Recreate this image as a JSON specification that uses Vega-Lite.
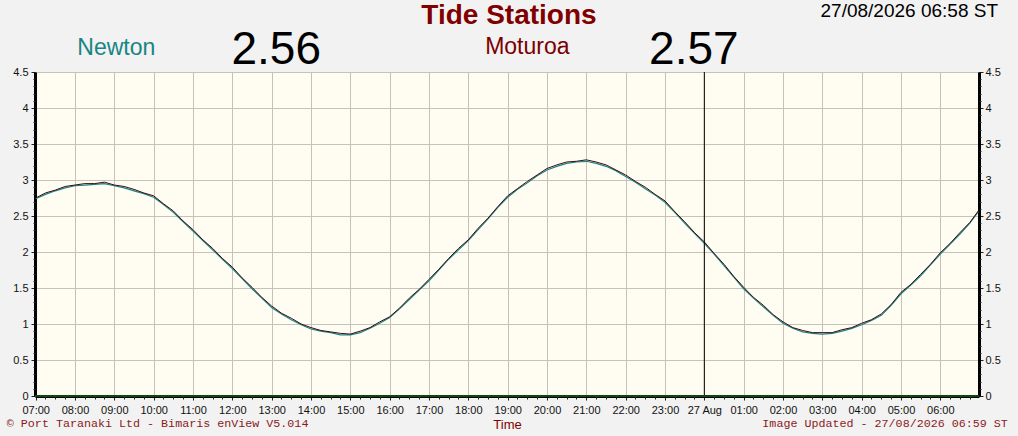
{
  "$schema": "https://vega.github.io/schema/vega-lite/v6.json",
  "width": 944,
  "height": 324,
  "autosize": {"type": "none"},
  "padding": {"left": 35, "top": 72, "right": 39, "bottom": 40},
  "background": "#F2F2F2",
  "data": {
    "values": [
      {"t": "2026-08-26T07:00", "moturoa": 2.75, "newton": 2.74},
      {"t": "2026-08-26T07:15", "moturoa": 2.82, "newton": 2.80},
      {"t": "2026-08-26T07:30", "moturoa": 2.86, "newton": 2.85},
      {"t": "2026-08-26T07:45", "moturoa": 2.91, "newton": 2.89},
      {"t": "2026-08-26T08:00", "moturoa": 2.93, "newton": 2.92},
      {"t": "2026-08-26T08:15", "moturoa": 2.95, "newton": 2.93},
      {"t": "2026-08-26T08:30", "moturoa": 2.95, "newton": 2.94},
      {"t": "2026-08-26T08:45", "moturoa": 2.97, "newton": 2.95},
      {"t": "2026-08-26T09:00", "moturoa": 2.93, "newton": 2.92},
      {"t": "2026-08-26T09:15", "moturoa": 2.91, "newton": 2.89},
      {"t": "2026-08-26T09:30", "moturoa": 2.87, "newton": 2.85},
      {"t": "2026-08-26T09:45", "moturoa": 2.82, "newton": 2.81},
      {"t": "2026-08-26T10:00", "moturoa": 2.78, "newton": 2.76},
      {"t": "2026-08-26T10:15", "moturoa": 2.67, "newton": 2.66},
      {"t": "2026-08-26T10:30", "moturoa": 2.57, "newton": 2.55},
      {"t": "2026-08-26T10:45", "moturoa": 2.43, "newton": 2.42},
      {"t": "2026-08-26T11:00", "moturoa": 2.31, "newton": 2.29},
      {"t": "2026-08-26T11:15", "moturoa": 2.17, "newton": 2.16},
      {"t": "2026-08-26T11:30", "moturoa": 2.05, "newton": 2.03},
      {"t": "2026-08-26T11:45", "moturoa": 1.91, "newton": 1.90},
      {"t": "2026-08-26T12:00", "moturoa": 1.79, "newton": 1.77},
      {"t": "2026-08-26T12:15", "moturoa": 1.64, "newton": 1.63},
      {"t": "2026-08-26T12:30", "moturoa": 1.51, "newton": 1.49},
      {"t": "2026-08-26T12:45", "moturoa": 1.37, "newton": 1.36},
      {"t": "2026-08-26T13:00", "moturoa": 1.25, "newton": 1.23},
      {"t": "2026-08-26T13:15", "moturoa": 1.15, "newton": 1.14},
      {"t": "2026-08-26T13:30", "moturoa": 1.08, "newton": 1.06},
      {"t": "2026-08-26T13:45", "moturoa": 1.00, "newton": 0.99},
      {"t": "2026-08-26T14:00", "moturoa": 0.95, "newton": 0.93},
      {"t": "2026-08-26T14:15", "moturoa": 0.91, "newton": 0.90},
      {"t": "2026-08-26T14:30", "moturoa": 0.89, "newton": 0.88},
      {"t": "2026-08-26T14:45", "moturoa": 0.87, "newton": 0.85},
      {"t": "2026-08-26T15:00", "moturoa": 0.86, "newton": 0.85},
      {"t": "2026-08-26T15:15", "moturoa": 0.90, "newton": 0.88},
      {"t": "2026-08-26T15:30", "moturoa": 0.95, "newton": 0.94},
      {"t": "2026-08-26T15:45", "moturoa": 1.03, "newton": 1.01},
      {"t": "2026-08-26T16:00", "moturoa": 1.10, "newton": 1.09},
      {"t": "2026-08-26T16:15", "moturoa": 1.22, "newton": 1.21},
      {"t": "2026-08-26T16:30", "moturoa": 1.36, "newton": 1.34},
      {"t": "2026-08-26T16:45", "moturoa": 1.48, "newton": 1.47},
      {"t": "2026-08-26T17:00", "moturoa": 1.62, "newton": 1.60},
      {"t": "2026-08-26T17:15", "moturoa": 1.76, "newton": 1.75},
      {"t": "2026-08-26T17:30", "moturoa": 1.91, "newton": 1.90},
      {"t": "2026-08-26T17:45", "moturoa": 2.05, "newton": 2.03},
      {"t": "2026-08-26T18:00", "moturoa": 2.17, "newton": 2.16},
      {"t": "2026-08-26T18:15", "moturoa": 2.33, "newton": 2.31},
      {"t": "2026-08-26T18:30", "moturoa": 2.47, "newton": 2.46},
      {"t": "2026-08-26T18:45", "moturoa": 2.63, "newton": 2.62},
      {"t": "2026-08-26T19:00", "moturoa": 2.78, "newton": 2.76},
      {"t": "2026-08-26T19:15", "moturoa": 2.88, "newton": 2.87},
      {"t": "2026-08-26T19:30", "moturoa": 2.98, "newton": 2.96},
      {"t": "2026-08-26T19:45", "moturoa": 3.07, "newton": 3.06},
      {"t": "2026-08-26T20:00", "moturoa": 3.16, "newton": 3.14},
      {"t": "2026-08-26T20:15", "moturoa": 3.21, "newton": 3.19},
      {"t": "2026-08-26T20:30", "moturoa": 3.25, "newton": 3.23},
      {"t": "2026-08-26T20:45", "moturoa": 3.26, "newton": 3.25},
      {"t": "2026-08-26T21:00", "moturoa": 3.28, "newton": 3.26},
      {"t": "2026-08-26T21:15", "moturoa": 3.25, "newton": 3.23},
      {"t": "2026-08-26T21:30", "moturoa": 3.21, "newton": 3.19},
      {"t": "2026-08-26T21:45", "moturoa": 3.14, "newton": 3.13},
      {"t": "2026-08-26T22:00", "moturoa": 3.07, "newton": 3.05},
      {"t": "2026-08-26T22:15", "moturoa": 2.98, "newton": 2.97},
      {"t": "2026-08-26T22:30", "moturoa": 2.90, "newton": 2.88},
      {"t": "2026-08-26T22:45", "moturoa": 2.80, "newton": 2.79},
      {"t": "2026-08-26T23:00", "moturoa": 2.71, "newton": 2.69},
      {"t": "2026-08-26T23:15", "moturoa": 2.56, "newton": 2.55},
      {"t": "2026-08-26T23:30", "moturoa": 2.42, "newton": 2.40},
      {"t": "2026-08-26T23:45", "moturoa": 2.27, "newton": 2.26},
      {"t": "2026-08-27T00:00", "moturoa": 2.14, "newton": 2.12},
      {"t": "2026-08-27T00:15", "moturoa": 1.98, "newton": 1.97},
      {"t": "2026-08-27T00:30", "moturoa": 1.83, "newton": 1.81},
      {"t": "2026-08-27T00:45", "moturoa": 1.66, "newton": 1.65},
      {"t": "2026-08-27T01:00", "moturoa": 1.51, "newton": 1.49},
      {"t": "2026-08-27T01:15", "moturoa": 1.37, "newton": 1.36},
      {"t": "2026-08-27T01:30", "moturoa": 1.26, "newton": 1.24},
      {"t": "2026-08-27T01:45", "moturoa": 1.13, "newton": 1.12},
      {"t": "2026-08-27T02:00", "moturoa": 1.03, "newton": 1.01},
      {"t": "2026-08-27T02:15", "moturoa": 0.95, "newton": 0.94},
      {"t": "2026-08-27T02:30", "moturoa": 0.91, "newton": 0.89},
      {"t": "2026-08-27T02:45", "moturoa": 0.88, "newton": 0.87},
      {"t": "2026-08-27T03:00", "moturoa": 0.88, "newton": 0.86},
      {"t": "2026-08-27T03:15", "moturoa": 0.88, "newton": 0.87},
      {"t": "2026-08-27T03:30", "moturoa": 0.92, "newton": 0.90},
      {"t": "2026-08-27T03:45", "moturoa": 0.95, "newton": 0.94},
      {"t": "2026-08-27T04:00", "moturoa": 1.01, "newton": 0.99},
      {"t": "2026-08-27T04:15", "moturoa": 1.06, "newton": 1.05},
      {"t": "2026-08-27T04:30", "moturoa": 1.14, "newton": 1.12},
      {"t": "2026-08-27T04:45", "moturoa": 1.27, "newton": 1.26},
      {"t": "2026-08-27T05:00", "moturoa": 1.44, "newton": 1.42},
      {"t": "2026-08-27T05:15", "moturoa": 1.55, "newton": 1.54},
      {"t": "2026-08-27T05:30", "moturoa": 1.69, "newton": 1.67},
      {"t": "2026-08-27T05:45", "moturoa": 1.83, "newton": 1.82},
      {"t": "2026-08-27T06:00", "moturoa": 1.99, "newton": 1.97},
      {"t": "2026-08-27T06:15", "moturoa": 2.12, "newton": 2.11},
      {"t": "2026-08-27T06:30", "moturoa": 2.27, "newton": 2.25},
      {"t": "2026-08-27T06:45", "moturoa": 2.41, "newton": 2.40},
      {"t": "2026-08-27T06:58", "moturoa": 2.57, "newton": 2.56}
    ]
  },
  "layer": [
    {
      "mark": {"type": "line", "color": "#178585", "strokeWidth": 1.2},
      "encoding": {
        "x": {
          "field": "t",
          "type": "temporal",
          "scale": {
            "domain": [
              {"year": 2026, "month": 8, "date": 26, "hours": 6, "minutes": 59},
              {"year": 2026, "month": 8, "date": 27, "hours": 6, "minutes": 59}
            ],
            "nice": false
          },
          "axis": {
            "orient": "bottom",
            "title": "Time",
            "values": [
              {"year": 2026, "month": 8, "date": 26, "hours": 7},
              {"year": 2026, "month": 8, "date": 26, "hours": 8},
              {"year": 2026, "month": 8, "date": 26, "hours": 9},
              {"year": 2026, "month": 8, "date": 26, "hours": 10},
              {"year": 2026, "month": 8, "date": 26, "hours": 11},
              {"year": 2026, "month": 8, "date": 26, "hours": 12},
              {"year": 2026, "month": 8, "date": 26, "hours": 13},
              {"year": 2026, "month": 8, "date": 26, "hours": 14},
              {"year": 2026, "month": 8, "date": 26, "hours": 15},
              {"year": 2026, "month": 8, "date": 26, "hours": 16},
              {"year": 2026, "month": 8, "date": 26, "hours": 17},
              {"year": 2026, "month": 8, "date": 26, "hours": 18},
              {"year": 2026, "month": 8, "date": 26, "hours": 19},
              {"year": 2026, "month": 8, "date": 26, "hours": 20},
              {"year": 2026, "month": 8, "date": 26, "hours": 21},
              {"year": 2026, "month": 8, "date": 26, "hours": 22},
              {"year": 2026, "month": 8, "date": 26, "hours": 23},
              {"year": 2026, "month": 8, "date": 27, "hours": 0},
              {"year": 2026, "month": 8, "date": 27, "hours": 1},
              {"year": 2026, "month": 8, "date": 27, "hours": 2},
              {"year": 2026, "month": 8, "date": 27, "hours": 3},
              {"year": 2026, "month": 8, "date": 27, "hours": 4},
              {"year": 2026, "month": 8, "date": 27, "hours": 5},
              {"year": 2026, "month": 8, "date": 27, "hours": 6}
            ],
            "format": "%H:%M",
            "labelExpr": "datum.label == '00:00' ? '27 Aug' : datum.label",
            "grid": true,
            "tickSize": 4,
            "domainWidth": 3,
            "labelPadding": 4,
            "labelOverlap": false,
            "labelFlush": false,
            "titlePadding": 3
          }
        },
        "y": {
          "field": "newton",
          "type": "quantitative",
          "scale": {"domain": [0, 4.5], "nice": false, "zero": false},
          "axis": {
            "orient": "left",
            "title": null,
            "values": [0, 0.5, 1, 1.5, 2, 2.5, 3, 3.5, 4, 4.5],
            "format": "~g",
            "grid": true,
            "tickSize": 4,
            "domainWidth": 3,
            "labelPadding": 3
          }
        }
      }
    },
    {
      "mark": {"type": "line", "color": "#3c0a10", "strokeWidth": 1},
      "encoding": {
        "x": {
          "field": "t",
          "type": "temporal",
          "axis": {
            "orient": "bottom",
            "title": null,
            "labels": false,
            "grid": false,
            "domain": false,
            "tickSize": 3,
            "values": [
              {"year": 2026, "month": 8, "date": 26, "hours": 7, "minutes": 15}, {"year": 2026, "month": 8, "date": 26, "hours": 7, "minutes": 30}, {"year": 2026, "month": 8, "date": 26, "hours": 7, "minutes": 45},
              {"year": 2026, "month": 8, "date": 26, "hours": 8, "minutes": 15}, {"year": 2026, "month": 8, "date": 26, "hours": 8, "minutes": 30}, {"year": 2026, "month": 8, "date": 26, "hours": 8, "minutes": 45},
              {"year": 2026, "month": 8, "date": 26, "hours": 9, "minutes": 15}, {"year": 2026, "month": 8, "date": 26, "hours": 9, "minutes": 30}, {"year": 2026, "month": 8, "date": 26, "hours": 9, "minutes": 45},
              {"year": 2026, "month": 8, "date": 26, "hours": 10, "minutes": 15}, {"year": 2026, "month": 8, "date": 26, "hours": 10, "minutes": 30}, {"year": 2026, "month": 8, "date": 26, "hours": 10, "minutes": 45},
              {"year": 2026, "month": 8, "date": 26, "hours": 11, "minutes": 15}, {"year": 2026, "month": 8, "date": 26, "hours": 11, "minutes": 30}, {"year": 2026, "month": 8, "date": 26, "hours": 11, "minutes": 45},
              {"year": 2026, "month": 8, "date": 26, "hours": 12, "minutes": 15}, {"year": 2026, "month": 8, "date": 26, "hours": 12, "minutes": 30}, {"year": 2026, "month": 8, "date": 26, "hours": 12, "minutes": 45},
              {"year": 2026, "month": 8, "date": 26, "hours": 13, "minutes": 15}, {"year": 2026, "month": 8, "date": 26, "hours": 13, "minutes": 30}, {"year": 2026, "month": 8, "date": 26, "hours": 13, "minutes": 45},
              {"year": 2026, "month": 8, "date": 26, "hours": 14, "minutes": 15}, {"year": 2026, "month": 8, "date": 26, "hours": 14, "minutes": 30}, {"year": 2026, "month": 8, "date": 26, "hours": 14, "minutes": 45},
              {"year": 2026, "month": 8, "date": 26, "hours": 15, "minutes": 15}, {"year": 2026, "month": 8, "date": 26, "hours": 15, "minutes": 30}, {"year": 2026, "month": 8, "date": 26, "hours": 15, "minutes": 45},
              {"year": 2026, "month": 8, "date": 26, "hours": 16, "minutes": 15}, {"year": 2026, "month": 8, "date": 26, "hours": 16, "minutes": 30}, {"year": 2026, "month": 8, "date": 26, "hours": 16, "minutes": 45},
              {"year": 2026, "month": 8, "date": 26, "hours": 17, "minutes": 15}, {"year": 2026, "month": 8, "date": 26, "hours": 17, "minutes": 30}, {"year": 2026, "month": 8, "date": 26, "hours": 17, "minutes": 45},
              {"year": 2026, "month": 8, "date": 26, "hours": 18, "minutes": 15}, {"year": 2026, "month": 8, "date": 26, "hours": 18, "minutes": 30}, {"year": 2026, "month": 8, "date": 26, "hours": 18, "minutes": 45},
              {"year": 2026, "month": 8, "date": 26, "hours": 19, "minutes": 15}, {"year": 2026, "month": 8, "date": 26, "hours": 19, "minutes": 30}, {"year": 2026, "month": 8, "date": 26, "hours": 19, "minutes": 45},
              {"year": 2026, "month": 8, "date": 26, "hours": 20, "minutes": 15}, {"year": 2026, "month": 8, "date": 26, "hours": 20, "minutes": 30}, {"year": 2026, "month": 8, "date": 26, "hours": 20, "minutes": 45},
              {"year": 2026, "month": 8, "date": 26, "hours": 21, "minutes": 15}, {"year": 2026, "month": 8, "date": 26, "hours": 21, "minutes": 30}, {"year": 2026, "month": 8, "date": 26, "hours": 21, "minutes": 45},
              {"year": 2026, "month": 8, "date": 26, "hours": 22, "minutes": 15}, {"year": 2026, "month": 8, "date": 26, "hours": 22, "minutes": 30}, {"year": 2026, "month": 8, "date": 26, "hours": 22, "minutes": 45},
              {"year": 2026, "month": 8, "date": 26, "hours": 23, "minutes": 15}, {"year": 2026, "month": 8, "date": 26, "hours": 23, "minutes": 30}, {"year": 2026, "month": 8, "date": 26, "hours": 23, "minutes": 45},
              {"year": 2026, "month": 8, "date": 27, "hours": 0, "minutes": 15}, {"year": 2026, "month": 8, "date": 27, "hours": 0, "minutes": 30}, {"year": 2026, "month": 8, "date": 27, "hours": 0, "minutes": 45},
              {"year": 2026, "month": 8, "date": 27, "hours": 1, "minutes": 15}, {"year": 2026, "month": 8, "date": 27, "hours": 1, "minutes": 30}, {"year": 2026, "month": 8, "date": 27, "hours": 1, "minutes": 45},
              {"year": 2026, "month": 8, "date": 27, "hours": 2, "minutes": 15}, {"year": 2026, "month": 8, "date": 27, "hours": 2, "minutes": 30}, {"year": 2026, "month": 8, "date": 27, "hours": 2, "minutes": 45},
              {"year": 2026, "month": 8, "date": 27, "hours": 3, "minutes": 15}, {"year": 2026, "month": 8, "date": 27, "hours": 3, "minutes": 30}, {"year": 2026, "month": 8, "date": 27, "hours": 3, "minutes": 45},
              {"year": 2026, "month": 8, "date": 27, "hours": 4, "minutes": 15}, {"year": 2026, "month": 8, "date": 27, "hours": 4, "minutes": 30}, {"year": 2026, "month": 8, "date": 27, "hours": 4, "minutes": 45},
              {"year": 2026, "month": 8, "date": 27, "hours": 5, "minutes": 15}, {"year": 2026, "month": 8, "date": 27, "hours": 5, "minutes": 30}, {"year": 2026, "month": 8, "date": 27, "hours": 5, "minutes": 45},
              {"year": 2026, "month": 8, "date": 27, "hours": 6, "minutes": 15}, {"year": 2026, "month": 8, "date": 27, "hours": 6, "minutes": 30}, {"year": 2026, "month": 8, "date": 27, "hours": 6, "minutes": 45}
            ]
          }
        },
        "y": {
          "field": "moturoa",
          "type": "quantitative",
          "axis": {
            "orient": "right",
            "title": null,
            "values": [0, 0.5, 1, 1.5, 2, 2.5, 3, 3.5, 4, 4.5],
            "format": "~g",
            "grid": false,
            "tickSize": 4,
            "domainWidth": 3,
            "labelPadding": 2
          }
        }
      }
    },
    {
      "mark": {"type": "line", "opacity": 0},
      "encoding": {
        "x": {"field": "t", "type": "temporal", "axis": null},
        "y": {
          "field": "newton",
          "type": "quantitative",
          "axis": {
            "orient": "left",
            "title": null,
            "values": [0.1, 0.2, 0.3, 0.4, 0.6, 0.7, 0.8, 0.9, 1.1, 1.2, 1.3, 1.4, 1.6, 1.7, 1.8, 1.9, 2.1, 2.2, 2.3, 2.4, 2.6, 2.7, 2.8, 2.9, 3.1, 3.2, 3.3, 3.4, 3.6, 3.7, 3.8, 3.9, 4.1, 4.2, 4.3, 4.4],
            "labels": false,
            "grid": false,
            "domain": false,
            "tickSize": 2
          }
        }
      }
    },
    {
      "mark": {"type": "line", "opacity": 0},
      "encoding": {
        "x": {"field": "t", "type": "temporal", "axis": null},
        "y": {
          "field": "moturoa",
          "type": "quantitative",
          "axis": {
            "orient": "right",
            "title": null,
            "values": [0.1, 0.2, 0.3, 0.4, 0.6, 0.7, 0.8, 0.9, 1.1, 1.2, 1.3, 1.4, 1.6, 1.7, 1.8, 1.9, 2.1, 2.2, 2.3, 2.4, 2.6, 2.7, 2.8, 2.9, 3.1, 3.2, 3.3, 3.4, 3.6, 3.7, 3.8, 3.9, 4.1, 4.2, 4.3, 4.4],
            "labels": false,
            "grid": false,
            "domain": false,
            "tickSize": 2
          }
        }
      }
    },
    {
      "data": {"values": [{}]},
      "mark": {"type": "rule", "color": "#000000", "strokeWidth": 1},
      "encoding": {
        "x": {"datum": {"year": 2026, "month": 8, "date": 27, "hours": 0}, "type": "temporal", "axis": null}
      }
    },
    {
      "data": {"values": [{}]},
      "mark": {"type": "rule", "color": "#1e8a1e", "strokeWidth": 1},
      "encoding": {
        "y": {"datum": 0, "type": "quantitative", "axis": null}
      }
    },
    {
      "data": {"values": [{}]},
      "mark": {"type": "text", "text": "Tide Stations", "font": "Liberation Sans", "fontSize": 28, "fontWeight": "bold", "color": "#800000", "align": "center", "baseline": "alphabetic"},
      "encoding": {
        "x": {"datum": {"year": 2026, "month": 8, "date": 26, "hours": 19, "minutes": 2}, "type": "temporal", "axis": null},
        "y": {"datum": 5.16, "type": "quantitative", "axis": null}
      }
    },
    {
      "data": {"values": [{}]},
      "mark": {"type": "text", "text": "Newton", "font": "Liberation Sans", "fontSize": 23, "color": "#178585", "align": "center", "baseline": "alphabetic"},
      "encoding": {
        "x": {"datum": {"year": 2026, "month": 8, "date": 26, "hours": 9, "minutes": 3}, "type": "temporal", "axis": null},
        "y": {"datum": 4.743, "type": "quantitative", "axis": null}
      }
    },
    {
      "data": {"values": [{}]},
      "mark": {"type": "text", "text": "2.56", "font": "Liberation Sans", "fontSize": 46, "color": "#000000", "align": "center", "baseline": "alphabetic"},
      "encoding": {
        "x": {"datum": {"year": 2026, "month": 8, "date": 26, "hours": 13, "minutes": 7}, "type": "temporal", "axis": null},
        "y": {"datum": 4.611, "type": "quantitative", "axis": null}
      }
    },
    {
      "data": {"values": [{}]},
      "mark": {"type": "text", "text": "Moturoa", "font": "Liberation Sans", "fontSize": 23, "color": "#7a0000", "align": "center", "baseline": "alphabetic"},
      "encoding": {
        "x": {"datum": {"year": 2026, "month": 8, "date": 26, "hours": 19, "minutes": 30}, "type": "temporal", "axis": null},
        "y": {"datum": 4.75, "type": "quantitative", "axis": null}
      }
    },
    {
      "data": {"values": [{}]},
      "mark": {"type": "text", "text": "2.57", "font": "Liberation Sans", "fontSize": 46, "color": "#000000", "align": "center", "baseline": "alphabetic"},
      "encoding": {
        "x": {"datum": {"year": 2026, "month": 8, "date": 26, "hours": 23, "minutes": 44}, "type": "temporal", "axis": null},
        "y": {"datum": 4.611, "type": "quantitative", "axis": null}
      }
    },
    {
      "data": {"values": [{}]},
      "mark": {"type": "text", "text": "27/08/2026 06:58 ST", "font": "Liberation Sans", "fontSize": 19, "color": "#000000", "align": "right", "baseline": "alphabetic"},
      "encoding": {
        "x": {"datum": {"year": 2026, "month": 8, "date": 27, "hours": 7, "minutes": 28}, "type": "temporal", "axis": null},
        "y": {"datum": 5.268, "type": "quantitative", "axis": null}
      }
    },
    {
      "data": {"values": [{}]},
      "mark": {"type": "text", "text": "© Port Taranaki Ltd - Bimaris enView V5.014", "font": "Liberation Mono", "fontSize": 11.7, "color": "#8b1a1a", "align": "left", "baseline": "alphabetic"},
      "encoding": {
        "x": {"datum": {"year": 2026, "month": 8, "date": 26, "hours": 6, "minutes": 16}, "type": "temporal", "axis": null},
        "y": {"datum": -0.431, "type": "quantitative", "axis": null}
      }
    },
    {
      "data": {"values": [{}]},
      "mark": {"type": "text", "text": "Image Updated - 27/08/2026 06:59 ST", "font": "Liberation Mono", "fontSize": 11.7, "color": "#8b1a1a", "align": "right", "baseline": "alphabetic"},
      "encoding": {
        "x": {"datum": {"year": 2026, "month": 8, "date": 27, "hours": 7, "minutes": 43}, "type": "temporal", "axis": null},
        "y": {"datum": -0.431, "type": "quantitative", "axis": null}
      }
    }
  ],
  "resolve": {"axis": {"x": "independent", "y": "independent"}},
  "config": {
    "view": {"fill": "#FFFCF2", "stroke": "#000000", "strokeWidth": 1},
    "axis": {
      "labelFont": "Liberation Sans",
      "labelFontSize": 11,
      "labelColor": "#111111",
      "gridColor": "#c6c2ba",
      "gridWidth": 1,
      "tickColor": "#222222",
      "domainColor": "#000000",
      "titleFont": "Liberation Sans",
      "titleFontSize": 13,
      "titleFontWeight": "normal",
      "titleColor": "#800000"
    }
  }
}
